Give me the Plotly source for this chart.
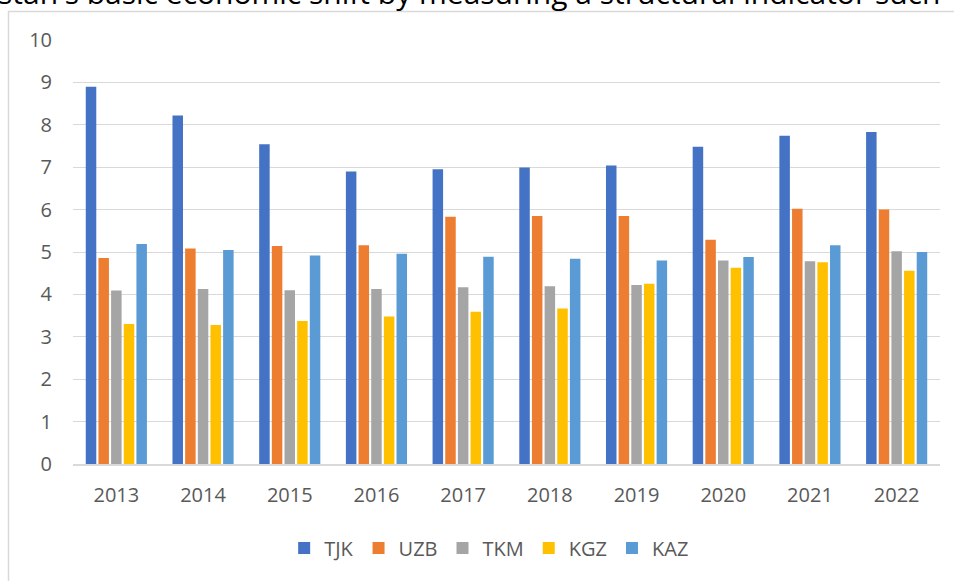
import plotly.graph_objects as go

years = ["2013", "2014", "2015", "2016", "2017", "2018", "2019", "2020", "2021", "2022"]
tjk = [8.90, 8.22, 7.54, 6.90, 6.95, 6.99, 7.04, 7.48, 7.74, 7.83]
uzb = [4.86, 5.08, 5.14, 5.16, 5.83, 5.85, 5.85, 5.29, 6.02, 6.00]
tkm = [4.09, 4.13, 4.10, 4.13, 4.17, 4.19, 4.22, 4.80, 4.78, 5.02]
kgz = [3.30, 3.28, 3.37, 3.48, 3.59, 3.67, 4.25, 4.63, 4.76, 4.56]
kaz = [5.19, 5.05, 4.92, 4.96, 4.89, 4.84, 4.80, 4.88, 5.16, 5.00]

series = [("TJK", tjk, "#4472C4"), ("UZB", uzb, "#ED7D31"), ("TKM", tkm, "#A5A5A5"),
          ("KGZ", kgz, "#FFC000"), ("KAZ", kaz, "#5B9BD5")]

W, H = 954, 581
ML, MR, MT, MB = 73, 14, 40, 117
PW, PH = W - ML - MR, H - MT - MB

fig = go.Figure()
for name, vals, col in series:
    fig.add_trace(go.Bar(x=years, y=vals, name=name, marker=dict(color=col, line=dict(width=0))))

FONT = "Open Sans"
TXT = "#595959"

def px_x(p):
    return (p - ML) / PW

def px_y(p):
    return (H - MB - p) / PH

fig.update_layout(
    width=W, height=H,
    margin=dict(l=ML, r=MR, t=MT, b=MB),
    paper_bgcolor="white", plot_bgcolor="white",
    barmode="group", bargap=0.27, bargroupgap=0.17,
    font=dict(family=FONT, size=20, color=TXT),
    showlegend=True,
    legend=dict(orientation="h", x=0.48, xanchor="center", y=px_y(548), yanchor="middle",
                font=dict(family=FONT, size=20, color=TXT), traceorder="normal",
                itemwidth=30),
    xaxis=dict(showgrid=False, showline=True, linecolor="#d9d9d9", linewidth=1.5,
               ticks="", tickfont=dict(family=FONT, size=20, color=TXT), ticklabelstandoff=12),
    yaxis=dict(range=[0, 10], dtick=1, showgrid=True, gridcolor="#d9d9d9", gridwidth=1.4,
               zeroline=False, showline=False, ticks="",
               tickfont=dict(family=FONT, size=20, color=TXT), ticklabelstandoff=20),
    shapes=[dict(type="rect", xref="paper", yref="paper",
                 x0=px_x(8.5), x1=px_x(1000), y0=px_y(700), y1=px_y(11.5),
                 line=dict(color="#d9d9d9", width=1.5), fillcolor="rgba(0,0,0,0)", layer="below")],
    annotations=[dict(text="stan's basic economic shift by measuring a structural indicator such",
                      xref="paper", yref="paper", x=px_x(-4), xanchor="left",
                      y=px_y(-8), yanchor="middle", showarrow=False,
                      font=dict(family=FONT, size=30, color="black"))],
)

fig.write_html("out.html", config={"displayModeBar": False},
               post_script="document.body.style.margin='0';document.body.style.overflow='hidden';")
